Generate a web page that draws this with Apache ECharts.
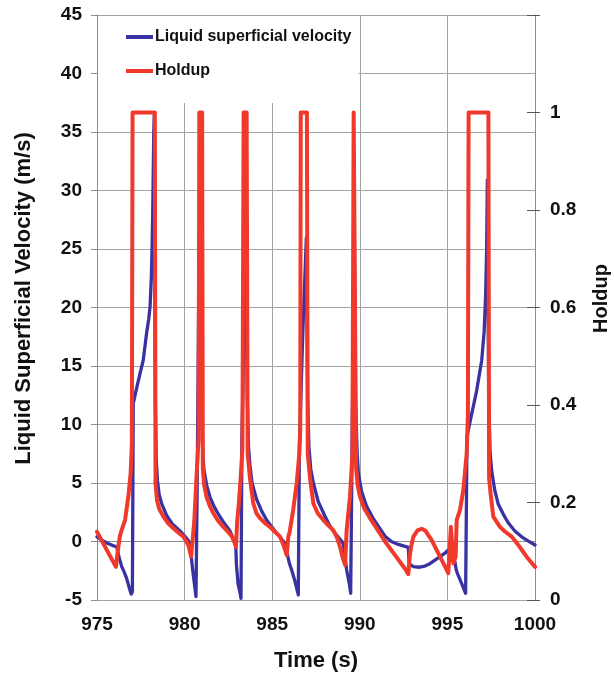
<!DOCTYPE html>
<html>
<head>
<meta charset="utf-8">
<script src="https://cdn.jsdelivr.net/npm/echarts@6/dist/echarts.min.js"></script>
<style>
html,body{margin:0;padding:0;background:#fff;}
#chart{width:614px;height:679px;}
</style>
</head>
<body>
<div id="chart"></div>
<script>
// ---- data ----
var seriesNames = ['Liquid superficial velocity', 'Holdup'];

var velocityTime = [
  975.0, 975.3, 975.6, 975.9, 976.12, 976.22, 976.27, 976.41, 976.55, 976.69, 976.85, 976.95,
  977.02, 977.07, 977.32, 977.64, 977.83, 977.95, 978.03, 978.1, 978.14, 978.18, 978.21, 978.24, 978.27,
  978.33, 978.38, 978.45, 978.55, 978.7, 978.98, 979.3, 979.74, 980.1, 980.31, 980.36, 980.45, 980.55, 980.65,
  980.72, 980.8, 980.9, 980.98, 981.04, 981.1, 981.26, 981.45, 981.65, 981.9, 982.2, 982.59, 982.92,
  982.96, 983.05, 983.15, 983.22, 983.27, 983.39, 983.5, 983.58, 983.65, 983.73, 983.85, 984.11, 984.4,
  984.68, 985.0, 985.26, 985.73, 985.85, 985.98, 986.11, 986.3, 986.49, 986.55, 986.75, 986.95, 987.02,
  987.1, 987.2, 987.35, 987.63, 988.0, 988.3, 988.7, 989.06, 989.15, 989.25, 989.4, 989.48, 989.56,
  989.68, 989.76, 989.85, 989.92, 990.1, 990.39, 990.75, 991.15, 991.44, 991.8, 992.2, 992.77, 992.82,
  992.9, 993.06, 993.4, 993.72, 994.0, 994.29, 994.58, 994.86, 995.05, 995.15, 995.22, 995.43, 995.5,
  995.57, 995.81, 996.04, 996.12, 996.4, 996.67, 996.96, 997.1, 997.18, 997.24, 997.28, 997.36, 997.44,
  997.53, 997.7, 997.9, 998.2, 998.47, 998.85, 999.24, 999.6, 1000.0
];
var velocityValue = [
  0.4, 0.1, -0.15, -0.35, -0.45, -0.6, -1.4, -2.15, -2.6, -3.15, -4.0, -4.5,
  -4.3, 11.8, 13.5, 15.5, 17.8, 19.0, 20.1, 22.5, 24.9, 28.0, 31.5, 35.0, 36.5,
  12.0, 7.0, 5.2, 4.0, 3.2, 2.2, 1.5, 0.9, 0.3, -0.1, -1.0, -2.3, -3.5, -4.7,
  5.0, 20.0, 31.0, 12.0, 7.5, 6.2, 4.8, 3.8, 3.1, 2.4, 1.7, 0.9, -0.3,
  -2.0, -3.6, -4.3, -4.86, 8.7, 17.8, 27.5, 12.0, 8.0, 6.5, 5.0, 3.6, 2.6,
  1.84, 1.2, 0.7, -0.16, -1.0, -1.86, -2.44, -3.4, -4.57, 8.0, 18.0, 26.0, 12.0,
  8.0, 6.2, 5.0, 3.4, 2.2, 1.3, 0.5, -0.16, -1.3, -2.44, -3.6, -4.43, 8.0,
  28.0, 12.0, 7.5, 5.8, 4.3, 3.0, 2.0, 1.1, 0.45, 0.0, -0.25, -0.5, -1.9,
  -2.0, -2.15, -2.2, -2.1, -1.9, -1.6, -1.3, -1.0, -0.73, -0.6, -1.58, -1.73, -2.4,
  -2.72, -3.57, -4.43, 9.0, 11.0, 12.9, 15.5, 18.0, 21.0, 24.9, 30.9, 12.0, 7.5,
  6.0, 4.4, 3.2, 2.3, 1.6, 0.9, 0.4, 0.05, -0.3
];

var holdupTime = [
  975.0, 976.08, 976.15, 976.22, 976.3, 976.41, 976.6, 976.79, 976.92, 976.99, 977.03, 978.3,
  978.34, 978.42, 978.55, 978.79, 979.05, 979.36, 979.65, 979.93, 980.1, 980.21, 980.3, 980.37,
  980.45, 980.55, 980.69, 980.8, 980.84, 981.0, 981.04, 981.12, 981.26, 981.45, 981.64, 981.9,
  982.21, 982.5, 982.69, 982.85, 982.93, 983.0, 983.1, 983.2, 983.3, 983.37, 983.54, 983.6,
  983.73, 983.92, 984.1, 984.3, 984.6, 984.87, 985.15, 985.45, 985.65, 985.83, 985.92, 986.0,
  986.2, 986.4, 986.55, 986.6, 986.63, 986.98, 987.03, 987.16, 987.35, 987.6, 987.92, 988.2,
  988.49, 988.7, 988.87, 989.0, 989.16, 989.25, 989.44, 989.58, 989.65, 989.72, 989.79, 989.88,
  990.01, 990.25, 990.58, 991.0, 991.44, 992.01, 992.58, 992.77, 992.85, 992.93, 993.06, 993.3,
  993.53, 993.75, 994.1, 994.58, 995.05, 995.2, 995.34, 995.47, 995.53, 995.72, 995.91, 996.1,
  996.17, 996.21, 997.34, 997.38, 997.46, 997.62, 998.0, 998.3, 998.67, 999.0, 999.24, 999.6, 1000.0
];
var holdupValue = [
  0.14, 0.068, 0.09, 0.109, 0.13, 0.144, 0.164, 0.212, 0.26, 0.32, 1.0, 1.0,
  0.24, 0.205, 0.187, 0.171, 0.158, 0.147, 0.138, 0.13, 0.12, 0.113, 0.1, 0.089,
  0.12, 0.16, 0.26, 0.33, 1.0, 1.0, 0.27, 0.235, 0.21, 0.192, 0.178, 0.163,
  0.15, 0.139, 0.131, 0.118, 0.109, 0.16, 0.2, 0.25, 0.31, 1.0, 1.0, 0.3,
  0.25, 0.198, 0.178, 0.168, 0.157, 0.15, 0.14, 0.13, 0.112, 0.092, 0.13, 0.14,
  0.185, 0.24, 0.3, 0.35, 1.0, 1.0, 0.3, 0.25, 0.198, 0.178, 0.164, 0.153,
  0.143, 0.128, 0.109, 0.09, 0.072, 0.144, 0.212, 0.3, 1.0, 1.0, 0.27, 0.235,
  0.212, 0.188, 0.168, 0.145, 0.12, 0.092, 0.064, 0.053, 0.09, 0.11, 0.13, 0.143,
  0.146, 0.142, 0.123, 0.089, 0.055, 0.15, 0.075, 0.089, 0.164, 0.185, 0.226, 0.3,
  0.38, 1.0, 1.0, 0.25, 0.22, 0.171, 0.15, 0.14, 0.13, 0.115, 0.103, 0.085, 0.068
];

var xRange = [975, 1000, 5];
var velocityRange = [-5, 45, 5];
var holdupRange = [0, 1.2, 0.2];

function pairs(xs, ys) {
  var out = [];
  for (var i = 0; i < xs.length; i++) out.push([xs[i], ys[i]]);
  return out;
}

var FONT = "'Liberation Sans', Arial, sans-serif";
var BLUE = '#3832a2';
var RED = '#f0382b';
var GRID = '#a3a3a3';
var AXIS = '#8c8c8c';

var chart = echarts.init(document.getElementById('chart'), null, {renderer: 'canvas'});
chart.setOption({
  animation: false,
  backgroundColor: '#ffffff',
  grid: {left: 97, right: 79, top: 15, bottom: 79, containLabel: false, outerBoundsMode: 'none'},
  legend: {
    orient: 'vertical',
    left: 98, top: 16,
    padding: [13, 7, 24, 28],
    itemGap: 18,
    itemWidth: 27, itemHeight: 4,
    icon: 'rect',
    backgroundColor: '#ffffff',
    textStyle: {fontFamily: FONT, fontWeight: 'bold', fontSize: 16, color: '#111', padding: [0, 0, 0, -3]},
    data: seriesNames
  },
  xAxis: {
    type: 'value',
    min: xRange[0], max: xRange[1], interval: xRange[2],
    name: 'Time (s)',
    nameLocation: 'middle',
    nameGap: 50,
    nameTextStyle: {fontFamily: FONT, fontWeight: 'bold', fontSize: 22, color: '#111'},
    axisLine: {show: true, lineStyle: {color: AXIS, width: 1}},
    axisTick: {show: false},
    axisLabel: {fontFamily: FONT, fontWeight: 'bold', fontSize: 19, color: '#111', margin: 15,
      formatter: function (v) { return String(v); }},
    splitLine: {show: true, lineStyle: {color: GRID, width: 1}}
  },
  yAxis: [
    {
      type: 'value',
      position: 'left',
      min: velocityRange[0], max: velocityRange[1], interval: velocityRange[2],
      name: 'Liquid Superficial Velocity (m/s)',
      nameLocation: 'middle',
      nameGap: 62,
      nameTextStyle: {fontFamily: FONT, fontWeight: 'bold', fontSize: 22, color: '#111', padding: [0, 0, 0, 18]},
      axisLine: {show: true, lineStyle: {color: AXIS, width: 1}},
      axisTick: {show: true, inside: false, length: 6, lineStyle: {color: AXIS}},
      axisLabel: {fontFamily: FONT, fontWeight: 'bold', fontSize: 19, color: '#111', margin: 15},
      splitLine: {show: true, lineStyle: {color: GRID, width: 1}}
    },
    {
      type: 'value',
      position: 'right',
      min: holdupRange[0], max: holdupRange[1], interval: holdupRange[2],
      name: 'Holdup',
      nameLocation: 'middle',
      nameGap: 56,
      nameTextStyle: {fontFamily: FONT, fontWeight: 'bold', fontSize: 20, color: '#111', padding: [0, 0, 0, 18]},
      axisLine: {show: true, lineStyle: {color: AXIS, width: 1}},
      axisTick: {show: true, inside: false, length: 5, lineStyle: {color: '#555'}},
      axisLabel: {
        fontFamily: FONT, fontWeight: 'bold', fontSize: 19, color: '#111', margin: 15,
        formatter: function (v) { return v > 1.1 ? '' : String(+v.toFixed(1)); }
      },
      splitLine: {show: false}
    },
    {
      type: 'value',
      position: 'right',
      min: holdupRange[0], max: holdupRange[1], interval: holdupRange[2],
      axisLine: {show: false},
      axisTick: {show: true, inside: true, length: 8, lineStyle: {color: '#555'}},
      axisLabel: {show: false},
      splitLine: {show: false}
    }
  ],
  series: [
    {
      name: seriesNames[0],
      type: 'line',
      yAxisIndex: 0,
      showSymbol: false,
      symbol: 'none',
      smooth: false,
      color: BLUE,
      lineStyle: {color: BLUE, width: 3.3, join: 'round', cap: 'round'},
      data: pairs(velocityTime, velocityValue),
      z: 3
    },
    {
      name: seriesNames[1],
      type: 'line',
      yAxisIndex: 1,
      showSymbol: false,
      symbol: 'none',
      smooth: false,
      color: RED,
      lineStyle: {color: RED, width: 4, join: 'round', cap: 'round'},
      data: pairs(holdupTime, holdupValue),
      z: 4
    }
  ]
});
</script>
</body>
</html>
